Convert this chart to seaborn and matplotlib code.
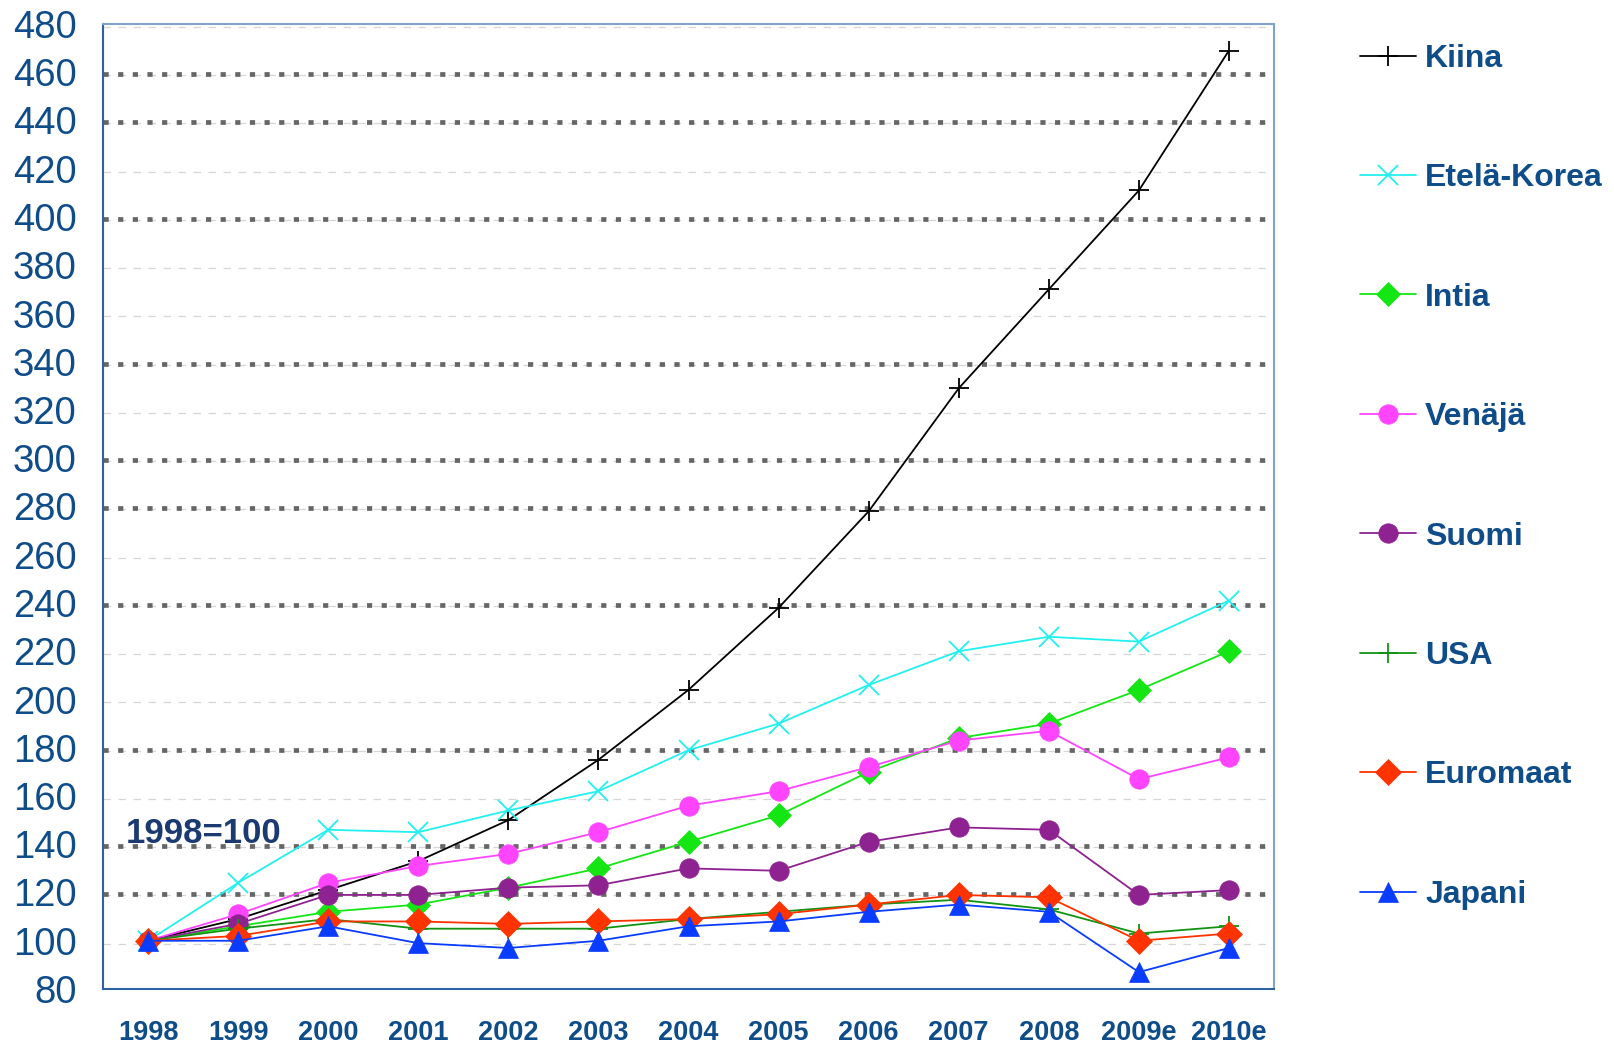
import matplotlib
matplotlib.use("Agg")
import matplotlib.pyplot as plt
import seaborn as sns
import pandas as pd
from matplotlib.lines import Line2D

years = ["1998", "1999", "2000", "2001", "2002", "2003", "2004", "2005",
         "2006", "2007", "2008", "2009e", "2010e"]

kiina = [100, 109, 121, 133, 150, 175, 204, 238, 278, 329, 370, 411, 469]
etela_korea = [100, 124, 146, 145, 154, 162, 179, 190, 206, 220, 226, 224, 241]
intia = [100, 106, 112, 115, 122, 130, 141, 152, 170, 184, 190, 204, 220]
venaja = [100, 111, 124, 131, 136, 145, 156, 162, 172, 183, 187, 167, 176]
suomi = [100, 107, 119, 119, 122, 123, 130, 129, 141, 147, 146, 119, 121]
usa = [100, 105, 109, 105, 105, 105, 109, 112, 115, 117, 113, 103, 106]
euromaat = [100, 102, 108, 108, 107, 108, 109, 111, 115, 119, 118, 100, 103]
japani = [100, 100, 106, 99, 97, 100, 106, 108, 112, 115, 112, 87, 97]

series_names = ["Kiina", "Etelä-Korea", "Intia", "Venäjä", "Suomi", "USA", "Euromaat", "Japani"]
series_values = [kiina, etela_korea, intia, venaja, suomi, usa, euromaat, japani]

colors = ["#000000", "#22F0F0", "#14E614", "#FF44FF", "#8E2290", "#119311", "#FF3300", "#0A3CFF"]
markers = ["+", "x", "D", "o", "o", "+", "D", "^"]
msizes = [15, 14, 12, 14, 14, 15, 13, 15]

rows = []
for name, vals in zip(series_names, series_values):
    for y, v in zip(years, vals):
        rows.append({"Vuosi": y, "Indeksi": v, "Maa": name})
df = pd.DataFrame(rows)

sns.set_theme(style="white")
plt.rcParams["font.family"] = ["Liberation Sans", "DejaVu Sans"]

W, H = 1614, 1044
fig = plt.figure(figsize=(W / 100, H / 100), dpi=100)
ax = fig.add_axes([103 / W, 1 - 989 / H, (1274 - 103) / W, (989 - 24) / H])

navy = "#0E4C8A"
spine_c = "#4F7FB5"
narrow = ["Liberation Sans Narrow", "Liberation Sans", "DejaVu Sans"]

# gridlines
for v in range(80, 481, 20):
    ax.axhline(v - 1.2, color="#D6D6D6", lw=0.9, ls=(0, (6, 6)), zorder=0)
heavy = [460, 440, 400, 340, 300, 280, 240, 180, 140, 120]
for v in heavy:
    ax.axhline(v - 0.8, color="#666666", lw=3.4, ls=(0, (1.1, 2.0)), zorder=0.5)

handles = []
for name, col, mk, ms in zip(series_names, colors, markers, msizes):
    sub = df[df["Maa"] == name]
    unfilled = mk in ("+", "x")
    sns.lineplot(data=sub, x="Vuosi", y="Indeksi", ax=ax, color=col, lw=1.3,
                 marker=mk, markersize=ms, markeredgecolor=col,
                 markeredgewidth=(1.3 if unfilled else 0.5), legend=False,
                 zorder=3)
    handles.append(Line2D([0], [0], color=col, lw=1.3, marker=mk, markersize=ms,
                          markeredgecolor=col, markeredgewidth=(1.3 if unfilled else 0.5)))

ax.set_xlim(-0.5, len(years) - 0.5)
ax.set_ylim(80, 480)
ax.set_yticks(range(80, 481, 20))
ax.set_yticklabels([str(v) for v in range(80, 481, 20)], fontsize=27.5, color=navy)
ax.set_xticks(range(len(years)))
ax.set_xticklabels(years, fontsize=19.5, fontweight="bold", color=navy, family=narrow)
ax.set_xticks([i - 0.5 for i in range(len(years) + 1)], minor=True)
ax.tick_params(axis="x", which="major", length=0, pad=22)
ax.tick_params(axis="x", which="minor", length=9, width=1.2, color=spine_c, direction="out")
ax.tick_params(axis="y", which="major", length=8, width=1.2, color=spine_c, direction="out", pad=11)
ax.set_xlabel("")
ax.set_ylabel("")
for s in ["left", "bottom"]:
    ax.spines[s].set_color("#2E62A0")
    ax.spines[s].set_linewidth(1.5)
for s in ["top", "right"]:
    ax.spines[s].set_color("#7FA3CC")
    ax.spines[s].set_linewidth(1.5)
ax.set_facecolor("none")

ax.text(-0.25, 140.5, "1998=100", fontsize=25, fontweight="bold", va="baseline",
        color="#1B3A72", family=narrow)

leg = fig.legend(handles, series_names, loc="upper left", bbox_to_anchor=(1347 / W, 1 - 31 / H),
                 frameon=False, fontsize=23, labelspacing=2.8, handlelength=1.75,
                 handletextpad=0.3, borderaxespad=0)
for t in leg.get_texts():
    t.set_color(navy)
    t.set_fontweight("bold")

fig.savefig("out.png", dpi=100, facecolor="white")
